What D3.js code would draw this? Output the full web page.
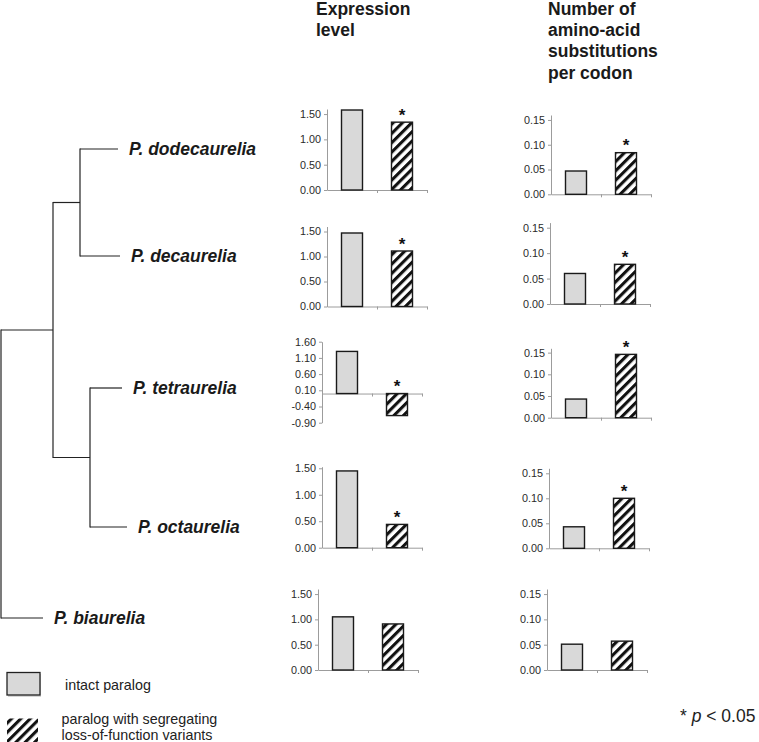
<!DOCTYPE html>
<html>
<head>
<meta charset="utf-8">
<script src="https://cdn.jsdelivr.net/npm/d3@7"></script>
<style>
  html, body { margin: 0; padding: 0; background: #fff; }
  svg { display: block; font-family: "Liberation Sans", Arial, Helvetica, sans-serif; }
</style>
</head>
<body>
<svg id="chart" width="759" height="742"></svg>
<script>
// ---------------- data ----------------
const species = ["P. dodecaurelia", "P. decaurelia", "P. tetraurelia", "P. octaurelia", "P. biaurelia"];
const categories = ["intact", "lof"];

const exprIntact = [1.58, 1.47, 1.30, 1.45, 1.05];
const exprLoF    = [1.34, 1.11, -0.68, 0.44, 0.91];
const exprSig    = [true, true, true, true, false];
const exprDomains = [[0, 1.6], [0, 1.6], [-0.9, 1.6], [0, 1.53], [0, 1.6]];
const exprTicks = [
  [0, 0.5, 1.0, 1.5],
  [0, 0.5, 1.0, 1.5],
  [-0.9, -0.4, 0.1, 0.6, 1.1, 1.6],
  [0, 0.5, 1.0, 1.5],
  [0, 0.5, 1.0, 1.5]
];

const subsIntact = [0.047, 0.060, 0.043, 0.043, 0.051];
const subsLoF    = [0.084, 0.078, 0.146, 0.100, 0.057];
const subsSig    = [true, true, true, true, false];
const subsDomain = [0, 0.16];
const subsTicks  = [0, 0.05, 0.10, 0.15];

const headerExpr = ["Expression", "level"];
const headerSubs = ["Number of", "amino-acid", "substitutions", "per codon"];
const legendLabels = [["intact paralog"], ["paralog with segregating", "loss-of-function variants"]];

// tree topology with branch lengths (arbitrary units)
const treeData = {name: "root", len: 0, children: [
  {name: "A", len: 52, children: [
    {name: "B", len: 27, children: [
      {name: "P. dodecaurelia", len: 38},
      {name: "P. decaurelia", len: 40}
    ]},
    {name: "C", len: 37, children: [
      {name: "P. tetraurelia", len: 32},
      {name: "P. octaurelia", len: 37}
    ]}
  ]},
  {name: "P. biaurelia", len: 42}
]};

// ---------------- layout ----------------
const layout = {
  leafY: [149, 256, 388, 527, 618],
  exprAxisX: [327, 327, 322, 322, 318],
  exprRange: [[190, 109], [306.5, 226.5], [422.7, 341.7], [547.7, 466.7], [670, 589]],
  subsAxisX: [551, 550, 551, 549, 547],
  subsRange: [[194.3, 115], [304, 222.6], [417.7, 348.3], [548.3, 468.3], [670, 589]],
  panelW: 100
};

const svg = d3.select("#chart");
const defs = svg.append("defs");
defs.append("pattern")
  .attr("id", "hatch")
  .attr("patternUnits", "userSpaceOnUse")
  .attr("width", 6.6).attr("height", 6.6)
  .attr("patternTransform", "rotate(45)")
  .append("rect")
  .attr("x", 0).attr("y", 0).attr("width", 3.1).attr("height", 6.6)
  .attr("fill", "#111");

const fill = {intact: "#d9d9d9", lof: "url(#hatch)"};
const axisColor = "#9c9c9c";
const fmt = d => d.toFixed(2);

// ---------------- headers ----------------
function header(lines, x) {
  const t = svg.append("text")
    .attr("x", x).attr("y", 15)
    .attr("font-size", 17.5).attr("font-weight", "bold").attr("fill", "#1a1a1a");
  lines.forEach((l, i) => t.append("tspan").attr("x", x).attr("dy", i === 0 ? 0 : 21.2).text(l));
}
header(headerExpr, 316);
header(headerSubs, 548);

// ---------------- tree ----------------
const root = d3.hierarchy(treeData);
root.eachBefore(n => { n.depthLen = (n.parent ? n.parent.depthLen : 0) + n.data.len; });
const leaves = root.leaves();
leaves.forEach(l => { l.yPos = layout.leafY[species.indexOf(l.data.name)]; });
root.eachAfter(n => { if (n.children) n.yPos = d3.mean(n.children, c => c.yPos); });
const maxLen = d3.max(leaves, l => l.depthLen);
const xTree = d3.scaleLinear().domain([0, maxLen]).range([1, 1 + maxLen]);

const treeG = svg.append("g").attr("stroke", "#222").attr("stroke-width", 1.2).attr("fill", "none");
root.descendants().forEach(n => {
  if (n.children) {
    treeG.append("line")
      .attr("x1", xTree(n.depthLen)).attr("x2", xTree(n.depthLen))
      .attr("y1", d3.min(n.children, c => c.yPos) - 0.6)
      .attr("y2", d3.max(n.children, c => c.yPos) + 0.6);
  }
  if (n.parent) {
    treeG.append("line")
      .attr("x1", xTree(n.parent.depthLen)).attr("x2", xTree(n.depthLen))
      .attr("y1", n.yPos).attr("y2", n.yPos);
  }
});
svg.append("g").selectAll("text").data(leaves).join("text")
  .attr("x", d => xTree(d.depthLen) + 11)
  .attr("y", d => d.yPos)
  .attr("dy", "0.36em")
  .attr("font-size", 17.5).attr("font-weight", "bold").attr("font-style", "italic")
  .attr("fill", "#1a1a1a")
  .text(d => d.data.name);

// ---------------- panels ----------------
function panel(axisX, range, domain, ticks, values, sig) {
  const g = svg.append("g").attr("transform", `translate(${axisX},0)`);
  const y = d3.scaleLinear().domain(domain).range(range);
  const x = d3.scaleBand().domain(categories).range([0, layout.panelW])
    .paddingInner(0.58).paddingOuter(0.29);

  const yAxis = g.append("g").call(
    d3.axisLeft(y).tickValues(ticks).tickFormat(fmt).tickSize(3).tickSizeOuter(0).tickPadding(3)
  );
  yAxis.select(".domain").attr("stroke", axisColor);
  yAxis.selectAll(".tick line").attr("stroke", axisColor);
  yAxis.selectAll(".tick text").attr("font-size", 10.8).attr("fill", "#2a2a2a")
    .attr("font-family", "'Liberation Sans', Arial, sans-serif");

  const y0 = y(0);
  const xAxis = g.append("g").attr("transform", `translate(0,${y0})`).call(
    d3.axisBottom(d3.scaleLinear().domain([0, 2]).range([0, layout.panelW]))
      .tickValues([1, 2]).tickSize(3).tickSizeOuter(0).tickFormat("")
  );
  xAxis.select(".domain").attr("stroke", axisColor);
  xAxis.selectAll(".tick line").attr("stroke", axisColor);

  g.selectAll("rect.bar").data(categories.map((c, i) => ({c, v: values[i]}))).join("rect")
    .attr("class", "bar")
    .attr("x", d => x(d.c))
    .attr("width", x.bandwidth())
    .attr("y", d => Math.min(y(d.v), y0))
    .attr("height", d => Math.abs(y(d.v) - y0))
    .attr("fill", d => fill[d.c])
    .attr("stroke", "#1a1a1a").attr("stroke-width", 1.4);

  if (sig) {
    const v = values[1];
    const fs = 17;
    g.append("text")
      .attr("x", x("lof") + x.bandwidth() / 2)
      .attr("y", Math.min(y(v), y0) - 11 + 0.56 * fs)
      .attr("text-anchor", "middle")
      .attr("font-size", fs).attr("font-weight", "bold").attr("fill", "#111")
      .text("*");
  }
}

species.forEach((s, i) => {
  panel(layout.exprAxisX[i], layout.exprRange[i], exprDomains[i], exprTicks[i],
        [exprIntact[i], exprLoF[i]], exprSig[i]);
  panel(layout.subsAxisX[i], layout.subsRange[i], subsDomain, subsTicks,
        [subsIntact[i], subsLoF[i]], subsSig[i]);
});

// ---------------- legend ----------------
const lg = svg.append("g");
lg.append("rect").attr("x", 8).attr("y", 674).attr("width", 33).attr("height", 23)
  .attr("fill", "#bbb").attr("opacity", 0.6);
lg.append("rect").attr("x", 7).attr("y", 672.5).attr("width", 33).attr("height", 22.5)
  .attr("fill", fill.intact).attr("stroke", "#222").attr("stroke-width", 1.3);
lg.append("rect").attr("x", 7).attr("y", 718.5).attr("width", 31).attr("height", 26)
  .attr("fill", fill.lof).attr("stroke", "none");
lg.append("text").attr("x", 65).attr("y", 690).attr("font-size", 14.3).attr("fill", "#222")
  .text(legendLabels[0][0]);
const t2 = lg.append("text").attr("x", 61.5).attr("y", 723.5).attr("font-size", 14.3).attr("fill", "#222");
legendLabels[1].forEach((l, i) => t2.append("tspan").attr("x", 61.5).attr("dy", i ? 16.5 : 0).text(l));

const pt = svg.append("text").attr("x", 680).attr("y", 722).attr("font-size", 17.5).attr("fill", "#222");
pt.append("tspan").text("* ");
pt.append("tspan").attr("font-style", "italic").text("p");
pt.append("tspan").text(" < 0.05");
</script>
</body>
</html>
